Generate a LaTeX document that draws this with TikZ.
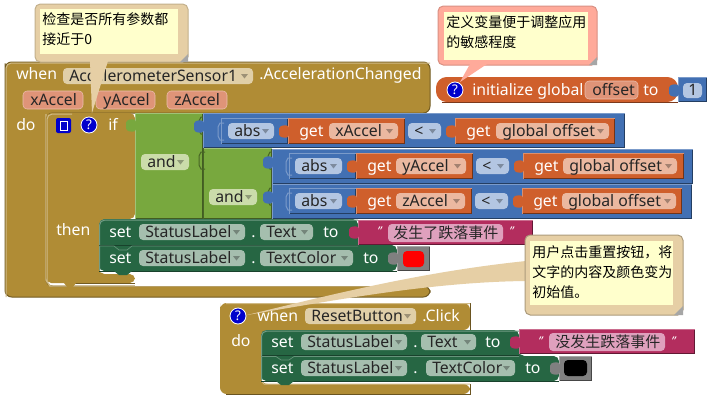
\documentclass[tikz,border=0pt]{standalone}
\usepackage{fontspec}
\setmainfont{Noto Sans}
\newfontfamily\cjk{Noto Sans CJK SC}
\definecolor{gold}{HTML}{B08C35}
\definecolor{leaf}{HTML}{78A83E}
\definecolor{sky}{HTML}{4270B3}
\definecolor{rust}{HTML}{CF5F2C}
\definecolor{pine}{HTML}{266643}
\definecolor{berry}{HTML}{B32D5E}
\definecolor{slate}{HTML}{808080}
\definecolor{tanpill}{HTML}{E0CFA8}
\definecolor{rustpill}{HTML}{EBB8A0}
\definecolor{skypill}{HTML}{B3C6E2}
\definecolor{leafpill}{HTML}{CBDCAA}
\definecolor{pinepill}{HTML}{A5BEAE}
\definecolor{berrypill}{HTML}{DFA0BD}
\definecolor{argpill}{HTML}{DF9478}
\definecolor{note}{HTML}{FFFFCC}
\definecolor{tannote}{HTML}{E6CFA5}
\definecolor{rednote}{HTML}{FFAA9A}
\definecolor{iconblue}{HTML}{0000CC}
\tikzset{
  wlabel/.style={text=white,font=\fontsize{11.85pt}{14pt}\selectfont,inner sep=0pt,anchor=base west},
  plabel/.style={text=black!85,font=\fontsize{11.85pt}{14pt}\selectfont,inner sep=0pt,anchor=base west},
  notetext/.style={text=black,font=\cjk\fontsize{10.5pt}{15pt}\selectfont,inner sep=0pt,anchor=north west,align=left},
  helpicon/.style={circle,fill=iconblue,draw=white,line width=0.6pt,minimum size=12pt,inner sep=0pt,text=white,font=\bfseries\fontsize{10pt}{10pt}\selectfont},
}
\newcommand{\blk}[5]{%
  \fill[#5] (#1,#2) rectangle (#3,#4);
  \draw[#5!55!black,line width=0.75pt] (#1,#4-0.5) -- (#3-0.5,#4-0.5) -- (#3-0.5,#2);
  \draw[#5!70!white,line width=0.75pt] (#1+0.5,#4) -- (#1+0.5,#2+0.5) -- (#3,#2+0.5);
}
\newcommand{\plug}[3]{%
  \fill[#3,rounded corners=1.2pt] (#1+1,#2-5) -- (#1-4,#2-6) -- (#1-9,#2-4) -- (#1-9,#2+5) -- (#1-4,#2+7) -- (#1+1,#2+6) -- cycle;
}
\newcommand{\sock}[3]{%
  \draw[#3,line width=0.75pt] (#1+2,#2-8) -- (#1-2,#2-8) -- (#1-4,#2-4) -- (#1-4,#2+5) -- (#1-2,#2+9) -- (#1+2,#2+9);
}
\newcommand{\pill}[6]{%
  \fill[#6,rounded corners=3pt] (#2,#4-8) rectangle (#3,#4+8);
  \node[plabel] at (#2+6,#4+5.5) (#1) {#5};
  \fill[#6!70!black] (#3-12,#4-2) -- (#3-5,#4-2) -- (#3-8.5,#4+2.5) -- cycle;
}
\newcommand{\pillp}[6]{%
  \fill[#6,draw=#6!60!white,rounded corners=3pt] (#2,#4-9) rectangle (#3,#4+9);
  \node[plabel] at (#2+7,#4+5.5) (#1) {#5};
}
\newcommand{\wtxt}[4]{\node[wlabel] at (#2,#3+5.5) (#1) {#4};}
\pgfdeclarelayer{notes}
\pgfsetlayers{main,notes}
\begin{document}
\begin{tikzpicture}[x=0.75pt,y=-0.75pt]
\fill[white] (0,0) rectangle (713,400);
\useasboundingbox (0,0) rectangle (713,400);
%% main event block
\fill[gold,draw=gold!65!black,line width=0.75pt,rounded corners=5pt] (5,70) -- (5,62) -- (430,62) -- (430,113) -- (46,113) -- (46,286) -- (430,286) -- (430,297) -- (5,297) -- cycle;
\draw[gold!60!white,line width=1pt] (46,114) -- (46,280) -- (50,286) -- (430,286);
\draw[gold!60!white,line width=0.75pt,rounded corners=4pt] (6,297) -- (6,63) -- (430,63);
%% if block
\fill[gold,rounded corners=4pt] (46,122) -- (46,113) -- (135,113) -- (135,219) -- (99,219) -- (99,274) -- (135,274) -- (135,283) -- (46,283) -- cycle;
\draw[gold!60!white,line width=0.75pt,rounded corners=4pt] (47,283) -- (47,114) -- (72,114);
\draw[gold!65!black,line width=0.75pt] (135,113) -- (135,219) (135,274) -- (135,283) -- (73,283);
\fill[gold] (64,283) -- (68,288) -- (72,288) -- (76,283) -- cycle;
\fill[white] (135,274) rectangle (430,285.5);
%% and blocks
\blk{135}{113}{203}{219}{leaf}
\blk{203}{148}{272}{219}{leaf}
\plug{135}{125}{leaf}
\sock{203}{125}{leaf!60!black}
\sock{203}{160}{leaf!60!black}
\sock{272}{160}{leaf!60!black}
\sock{272}{196}{leaf!60!black}
\draw[leaf!60!black,line width=0.75pt] (203,148) -- (203,219);
%% compare rows
\foreach \yt/\xa/\xb/\xend in {113/203/221/625,149/272/289/693,184/272/289/692}{
  \blk{\xa}{\yt}{\xend}{\yt+35}{sky}
  \plug{\xa}{\yt+13}{sky}
}
\foreach \yt/\xa/\xb/\xc in {118/221/288/405,153/289/356/473,188/289/356/472}{
  \blk{\xa}{\yt}{\xb}{\yt+26}{sky}
  \sock{\xa+1}{\yt+13}{sky!70!white}
  \blk{\xb}{\yt}{\xc}{\yt+26}{rust}
  \plug{\xb}{\yt+13}{rust}
}
\foreach \yt/\xa/\xb in {118/455/615,153/523/684,188/522/682}{
  \blk{\xa}{\yt}{\xb}{\yt+26}{rust}
  \plug{\xa}{\yt+13}{rust}
}
%% set blocks
\fill[pine,rounded corners=4pt] (99,246) -- (99,219) -- (358,219) -- (358,245) -- (397,245) -- (397,271) -- (99,271) -- cycle;
\draw[pine!65!white,line width=0.75pt,rounded corners=4pt] (99.5,270) -- (99.5,220) -- (358,220);
\draw[pine!65!black,line width=0.75pt] (99,245) -- (358,245) (99,271) -- (397,271);
\fill[pine] (114,271) -- (119,275) -- (127,275) -- (132,271) -- cycle;
\draw[pine!70!white,line width=0.5pt] (99,246) -- (114,246) -- (119,250) -- (127,250) -- (132,246) -- (358,246);
\blk{358}{220}{533}{245}{berry}
\plug{358}{232}{berry}
\blk{397}{246}{430}{271}{slate}
\plug{397}{258}{slate}
\fill[red,rounded corners=3pt] (403,251) rectangle (424,267);
%% init block
\fill[rust,rounded corners=8pt] (678,77) -- (436,77) -- (436,102) -- (678,102) -- cycle;
\draw[rust!60!black,line width=0.75pt] (442,102) -- (678,102);
\blk{678}{77}{707}{102}{sky}
\plug{678}{90}{sky}
%% reset block
\fill[gold,rounded corners=5pt] (220,310) -- (220,303) -- (470,303) -- (470,330) -- (261,330) -- (261,384) -- (470,384) -- (470,394) -- (220,394) -- cycle;
\draw[gold!60!black,line width=0.75pt] (470,303) -- (470,330) (470,384) -- (470,394) -- (226,394);
\draw[gold!60!white,line width=0.75pt] (470,303.5) -- (226,303.5) (261,381) -- (264,384) -- (470,384);
\fill[pine,rounded corners=4pt] (261,356) -- (261,330) -- (519,330) -- (519,356) -- (559,356) -- (559,381) -- (261,381) -- cycle;
\draw[pine!65!black,line width=0.75pt] (261,355.5) -- (519,355.5) (261,381) -- (559,381);
\draw[pine!65!white,line width=0.75pt,rounded corners=4pt] (261.5,380) -- (261.5,331) -- (519,331);
\fill[pine] (276,381) -- (281,385) -- (289,385) -- (294,381) -- cycle;
\draw[pine!70!white,line width=0.5pt] (261,356.5) -- (276,356.5) -- (281,360) -- (289,360) -- (294,356.5) -- (519,356.5);
\blk{519}{329}{695}{354}{berry}
\plug{519}{342}{berry}
\blk{559}{356}{592}{381}{slate}
\plug{559}{368}{slate}
\fill[black,rounded corners=3pt] (564,360) rectangle (587,376);
%% header texts
\wtxt{w1}{16}{74}{when}
\wtxt{w2}{259}{74}{.AccelerationChanged}
\wtxt{w3}{16}{125}{do}
\wtxt{w4}{108}{125}{if}
\wtxt{w5}{56}{230}{then}
\pill{p1}{63}{253}{76}{AccelerometerSensor1}{tanpill}
\pillp{a1}{23}{83}{100}{xAccel}{argpill}
\pillp{a2}{96}{155}{100}{yAccel}{argpill}
\pillp{a3}{167}{227}{100}{zAccel}{argpill}
\pill{and1}{141}{189}{162}{and}{leafpill}
\pill{and2}{209}{257}{197}{and}{leafpill}
%% row 1
\pill{abs1}{228}{274}{131}{abs}{skypill}
\wtxt{g1}{299}{131}{get}
\pill{v1}{329}{398}{131}{xAccel}{rustpill}
\pill{lt1}{408}{441}{131}{<}{skypill}
\wtxt{g2}{466}{131}{get}
\pill{o1}{496}{609}{131}{global offset}{rustpill}
%% row 2
\pill{abs2}{295}{342}{166}{abs}{skypill}
\wtxt{g3}{367}{166}{get}
\pill{v2}{396}{466}{166}{yAccel}{rustpill}
\pill{lt2}{476}{509}{166}{<}{skypill}
\wtxt{g4}{534}{166}{get}
\pill{o2}{563}{677}{166}{global offset}{rustpill}
%% row 3
\pill{abs3}{295}{342}{201}{abs}{skypill}
\wtxt{g5}{367}{201}{get}
\pill{v3}{396}{465}{201}{zAccel}{rustpill}
\pill{lt3}{475}{508}{201}{<}{skypill}
\wtxt{g6}{533}{201}{get}
\pill{o3}{562}{676}{201}{global offset}{rustpill}
%% set rows
\wtxt{s1}{109}{232}{set}
\pill{sl1}{139}{245}{232}{StatusLabel}{pinepill}
\wtxt{d1}{251}{232}{.}
\pill{t1}{260}{313}{232}{Text}{pinepill}
\wtxt{to1}{323}{232}{to}
\wtxt{q1}{377}{230}{\fontsize{9pt}{9pt}\selectfont\itshape "}
\fill[berrypill,rounded corners=3pt] (388,224) rectangle (503,242);
\node[plabel,font=\cjk\fontsize{11.25pt}{14pt}\selectfont] at (393,238) (str1) {发生了跌落事件};
\wtxt{q2}{509}{230}{\fontsize{9pt}{9pt}\selectfont\itshape "}
\wtxt{s2}{109}{258}{set}
\pill{sl2}{139}{245}{258}{StatusLabel}{pinepill}
\wtxt{d2}{251}{258}{.}
\pill{t2}{260}{353}{258}{TextColor}{pinepill}
\wtxt{to2}{363}{258}{to}
%% init
\wtxt{i1}{472}{90}{initialize global}
\pillp{i2}{585}{638}{90}{offset}{argpill}
\wtxt{i3}{643}{90}{to}
\fill[skypill,rounded corners=3pt] (683,83) rectangle (702,98);
\node[plabel] at (688,95.5) (i4) {1};
\node[helpicon] (h1) at (455,90) {?};
%% reset
\node[helpicon] (h3) at (238,316) {?};
\wtxt{r1}{257}{316}{when}
\pill{r2}{305}{416}{316}{ResetButton}{tanpill}
\wtxt{r3}{422}{316}{.Click}
\wtxt{r4}{231}{341}{do}
\wtxt{s3}{271}{342}{set}
\pill{sl3}{301}{407}{342}{StatusLabel}{pinepill}
\wtxt{d3}{413}{342}{.}
\pill{t3}{421}{476}{342}{Text}{pinepill}
\wtxt{to3}{485}{342}{to}
\wtxt{q3}{538}{340}{\fontsize{9pt}{9pt}\selectfont\itshape "}
\fill[berrypill,rounded corners=3pt] (549,333) rectangle (665,351);
\node[plabel,font=\cjk\fontsize{11.25pt}{14pt}\selectfont] at (555,347) (str2) {没发生跌落事件};
\wtxt{q4}{671}{340}{\fontsize{9pt}{9pt}\selectfont\itshape "}
\wtxt{s4}{271}{368}{set}
\pill{sl4}{301}{407}{368}{StatusLabel}{pinepill}
\wtxt{d4}{413}{368}{.}
\pill{t4}{426}{515}{368}{TextColor}{pinepill}
\wtxt{to4}{525}{368}{to}
%% mutator and help icons on if
\fill[iconblue,rounded corners=1.5pt] (56,118) rectangle (71,133);
\draw[white,line width=0.75pt] (60,121) rectangle (67,130);
\node[helpicon] (h2) at (89,125) {?};

\begin{pgfonlayer}{notes}
%% note 1
\fill[tannote,draw=tannote!85!black,line width=0.75pt,rounded corners=4pt] (35,4) rectangle (188,62);
\fill[tannote] (90,61) -- (108,61) -- (92,113) -- cycle;
\fill[note] (40,9) rectangle (178,54);
\fill[black!35] (188,54) -- (188,62) -- (180,62) -- cycle;
\node[notetext] (n1) at (42,12) {检查是否所有参数都\\接近于0};
%% note 2
\fill[rednote,draw=rednote!85!black,line width=0.75pt,rounded corners=4pt] (438,6) rectangle (597,65);
\fill[rednote] (470,64) -- (487,64) -- (460,82) -- cycle;
\fill[note] (444,12) rectangle (588,60);
\fill[black!35] (597,57) -- (597,65) -- (589,65) -- cycle;
\node[notetext] (n2) at (446,15) {定义变量便于调整应用\\的敏感程度};
%% note 3
\fill[tannote] (526,261) .. controls (420,272) and (330,295) .. (247,315) .. controls (330,301) and (430,282) .. (526,281) -- cycle;
\fill[tannote,draw=tannote!75!black,line width=0.75pt,rounded corners=4pt] (525,235) rectangle (683,315);
\fill[note] (530,241) rectangle (673,305);
\fill[black!35] (683,306) -- (683,315) -- (674,315) -- cycle;
\node[notetext] (n3) at (532,245) {用户点击重置按钮，将\\文字的内容及颜色变为\\初始值。};
\end{pgfonlayer}
\end{tikzpicture}
\end{document}
